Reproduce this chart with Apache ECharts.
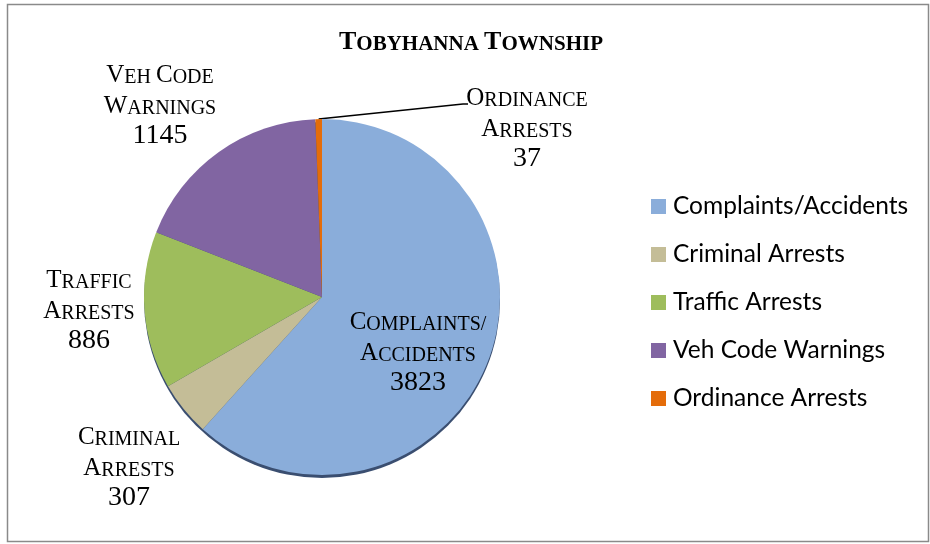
<!DOCTYPE html>
<html>
<head>
<meta charset="utf-8">
<title>Tobyhanna Township</title>
<script src="https://cdn.jsdelivr.net/npm/echarts@6/dist/echarts.min.js"></script>
<style>
  html, body { margin: 0; padding: 0; background: #fff; }
  #chart { width: 930px; height: 544px; }
</style>
</head>
<body>
<div id="chart"></div>
<script>
// Activity counts for the township
const categories = ['Complaints/Accidents', 'Criminal Arrests', 'Traffic Arrests', 'Veh Code Warnings', 'Ordinance Arrests'];
const counts = [3823, 307, 886, 1145, 37];
// Wrapped names used by the slice labels
const sliceLabels = ['Complaints/\nAccidents', 'Criminal\nArrests', 'Traffic\nArrests', 'Veh Code\nWarnings', 'Ordinance\nArrests'];
const chartTitle = 'Tobyhanna Township';

const palette = ['#8AADDA', '#C4BD97', '#9EBD5C', '#8165A2', '#E46C0A'];

// Turn "Veh Code" into small-caps rich text: capitals use style `big`, the rest `small`.
function smallCaps(text, big, small) {
  return text.split('\n').map(function (line) {
    let out = '', run = '', kind = null;
    for (const ch of line) {
      const k = (ch >= 'A' && ch <= 'Z') ? big : small;
      if (k !== kind && run) { out += '{' + kind + '|' + run + '}'; run = ''; }
      kind = k;
      run += ch.toUpperCase();
    }
    if (run) out += '{' + kind + '|' + run + '}';
    return out;
  }).join('\n');
}

// Where each slice's label block is centred
const labelSpots = [[418, 350], [129, 465], [89, 308], [160, 103], [527, 126]];

const serif = 'Liberation Serif';
const tok = function (size, weight) {
  return { fontFamily: serif, fontSize: size, fontWeight: weight || 'normal', color: '#000',
           lineHeight: 31, verticalAlign: 'bottom', align: 'center' };
};

const total = counts.reduce(function (a, b) { return a + b; }, 0);

const chart = echarts.init(document.getElementById('chart'), null, { renderer: 'canvas' });
chart.setOption({
  backgroundColor: '#fff',
  animation: false,
  title: {
    text: smallCaps(chartTitle, 'B', 'S'),
    left: 466, top: 22, textAlign: 'center',
    textStyle: {
      rich: {
        B: { fontFamily: serif, fontSize: 26, fontWeight: 'bold', color: '#000', verticalAlign: 'bottom', lineHeight: 28 },
        S: { fontFamily: serif, fontSize: 21, fontWeight: 'bold', color: '#000', verticalAlign: 'bottom', lineHeight: 28 }
      }
    }
  },
  legend: {
    orient: 'vertical',
    left: 651, top: 194,
    padding: 0,
    data: categories,
    icon: 'rect',
    itemWidth: 15, itemHeight: 15,
    itemGap: 23,
    selectedMode: false,
    textStyle: { fontFamily: 'Lato', fontSize: 24.5, color: '#000', padding: [0, 0, 0, 2] }
  },
  graphic: [{
    type: 'rect', silent: true, z: 0,
    shape: { x: 7.5, y: 4.5, width: 921, height: 537 },
    style: { fill: 'none', stroke: '#8a8a8a', lineWidth: 1.5 }
  }],
  series: [
    {
      // dark rim under the disc
      type: 'pie', name: 'rim', silent: true, z: 1,
      center: [322, 300], radius: 178, startAngle: 90,
      label: { show: false }, labelLine: { show: false },
      itemStyle: { color: '#3A4E70' },
      data: [{ value: total, name: '' }]
    },
    {
      type: 'pie', name: 'Tobyhanna Township', z: 2,
      center: [322, 297], radius: 178,
      startAngle: 90, clockwise: true,
      avoidLabelOverlap: false,
      itemStyle: { borderWidth: 0 },
      label: {
        show: true, position: 'outside',
        formatter: function (p) {
          return smallCaps(sliceLabels[p.dataIndex], 'b', 's') + '\n{n|' + p.value + '}';
        },
        rich: { b: tok(25), s: tok(20), n: tok(28) }
      },
      labelLine: { show: false, lineStyle: { color: '#000', width: 1.5 } },
      labelLayout: function (params) {
        const s = labelSpots[params.dataIndex];
        const out = { x: s[0], y: s[1], align: 'center', verticalAlign: 'middle' };
        if (params.labelLinePoints && params.labelLinePoints.length) {
          // leader runs from the slice edge to the foot of the first label line
          const start = params.labelLinePoints[0];
          out.labelLinePoints = [start, [s[0] - 64, s[1] - 22], [s[0] - 59, s[1] - 22]];
        }
        return out;
      },
      data: categories.map(function (name, i) {
        const item = { name: name, value: counts[i], itemStyle: { color: palette[i] } };
        if (i === 4) item.labelLine = { show: true, length: 8, length2: 20 };
        return item;
      })
    }
  ]
});
</script>
</body>
</html>
